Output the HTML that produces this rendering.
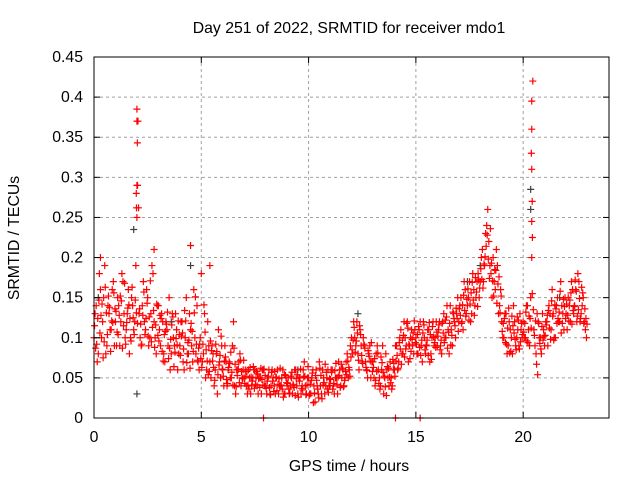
<!DOCTYPE html>
<html><head><meta charset="utf-8"><style>
body{margin:0;background:#fff}
svg text{font-family:"Liberation Sans",sans-serif;font-size:15.8px;fill:#000}
</style></head><body>
<svg id="chart" width="640" height="480" xmlns="http://www.w3.org/2000/svg">
<text x="349" y="33" text-anchor="middle">Day 251 of 2022, SRMTID for receiver mdo1</text>
<text transform="translate(19,238) rotate(-90)" text-anchor="middle">SRMTID / TECUs</text>
<text x="349" y="471" text-anchor="middle">GPS time / hours</text>
<g id="grid"></g><g id="marks"></g><g id="axes"></g>
</svg>
<script>
const xTicks=[0,5,10,15,20];
const yTicks=[0,0.05,0.1,0.15,0.2,0.25,0.3,0.35,0.4,0.45];
const yTickLabels=["0","0.05","0.1","0.15","0.2","0.25","0.3","0.35","0.4","0.45"];
const seriesStart=0, seriesStep=0.1;
const seriesA=[.10,.14,.08,.16,.12,.19,.09,.13,.11,.17,.12,.15,.09,.18,.13,.11,.16,.10,.14,.12,
.29,.13,.09,.17,.11,.15,.10,.19,.12,.08,.14,.09,.12,.07,.11,.15,.08,.10,.13,.06,
.09,.12,.06,.15,.08,.11,.07,.10,.14,.06,.18,.08,.05,.12,.07,.09,.04,.08,.11,.05,
.06,.09,.04,.07,.05,.12,.03,.06,.08,.05,.05,.04,.06,.03,.05,.06,.04,.05,.03,.06,
.04,.05,.03,.06,.04,.05,.03,.04,.06,.03,.04,.03,.05,.04,.06,.03,.05,.04,.07,.03,
.05,.03,.06,.02,.04,.07,.03,.05,.04,.06,.04,.06,.03,.05,.07,.04,.06,.05,.08,.06,
.10,.12,.09,.08,.11,.07,.09,.06,.08,.05,.07,.04,.09,.05,.06,.03,.08,.05,.07,.04,
.06,.09,.07,.11,.08,.10,.12,.09,.11,.08,.10,.08,.12,.07,.10,.09,.11,.08,.12,.10,
.09,.12,.08,.13,.10,.11,.14,.09,.12,.13,.12,.15,.11,.16,.14,.17,.13,.16,.15,.18,
.17,.21,.19,.24,.22,.18,.20,.16,.19,.14,.12,.10,.13,.09,.11,.08,.12,.10,.09,.11,
.12,.10,.14,.09,.20,.11,.08,.12,.10,.13,.09,.12,.14,.11,.13,.10,.15,.12,.14,.11,
.13,.15,.12,.16,.14,.12,.17,.13,.15,.11];
const seriesB=[.13,.07,.18,.10,.15,.08,.14,.11,.16,.09,.09,.14,.12,.17,.10,.13,.08,.15,.11,.19,
.37,.10,.14,.12,.16,.09,.13,.18,.10,.14,.11,.13,.08,.12,.09,.06,.13,.09,.11,.08,
.12,.07,.10,.08,.13,.09,.16,.08,.07,.10,.07,.13,.06,.09,.05,.08,.06,.03,.07,.09,
.04,.07,.06,.05,.09,.04,.06,.07,.04,.06,.06,.03,.05,.04,.06,.05,.03,.05,.06,.04,
.03,.06,.04,.05,.03,.06,.04,.05,.03,.05,.05,.04,.03,.06,.04,.05,.03,.06,.04,.05,
.03,.05,.04,.06,.03,.04,.06,.03,.05,.04,.06,.04,.05,.03,.06,.05,.04,.07,.05,.09,
.08,.10,.12,.06,.09,.10,.07,.05,.09,.07,.05,.08,.06,.04,.09,.05,.06,.04,.05,.06,
.09,.06,.10,.08,.12,.09,.07,.10,.09,.11,.08,.11,.09,.12,.08,.11,.07,.10,.09,.12,
.11,.09,.12,.10,.14,.08,.11,.13,.10,.15,.14,.12,.17,.13,.15,.12,.18,.14,.17,.15,
.20,.17,.23,.26,.19,.15,.17,.21,.13,.16,.10,.13,.08,.12,.10,.14,.09,.11,.13,.10,
.10,.14,.11,.15,.42,.09,.13,.10,.08,.11,.12,.09,.13,.16,.10,.14,.12,.17,.13,.15,
.11,.14,.17,.13,.16,.18,.12,.14,.12,.10];
const seriesC=[.115,.092,.147,.128,.075,.163,.104,.138,.121,.156,.133,.104,.152,.087,.168,.119,.141,.096,.125,.147,
.118,.136,.092,.157,.124,.102,.171,.113,.088,.142,.096,.124,.071,.108,.132,.087,.116,.064,.099,.121,
.078,.106,.134,.069,.097,.118,.083,.151,.072,.092,.063,.141,.085,.054,.096,.071,.047,.083,.066,.102,
.052,.076,.043,.068,.057,.087,.039,.061,.072,.049,.043,.058,.036,.051,.064,.042,.055,.038,.048,.061,
.037,.052,.029,.046,.058,.034,.049,.041,.026,.053,.043,.031,.057,.038,.049,.026,.061,.035,.052,.041,
.028,.047,.019,.053,.036,.062,.024,.044,.057,.032,.048,.036,.059,.042,.053,.067,.039,.058,.071,.052,
.085,.113,.096,.072,.104,.068,.087,.059,.077,.094,.063,.047,.081,.036,.069,.052,.028,.062,.044,.073,
.052,.078,.094,.067,.103,.086,.112,.074,.098,.121,.092,.114,.078,.106,.085,.097,.119,.073,.101,.088,
.102,.085,.118,.094,.126,.107,.091,.132,.115,.124,.136,.118,.153,.127,.161,.142,.169,.128,.157,.172,
.186,.162,.201,.228,.174,.193,.152,.184,.167,.131,.108,.124,.092,.137,.083,.115,.098,.126,.086,.118,
.107,.132,.094,.124,.155,.103,.067,.118,.086,.097,.103,.128,.112,.146,.097,.136,.124,.158,.118,.139,
.142,.121,.156,.134,.172,.127,.149,.163,.118,.124];
const seriesD=[.087,.124,.106,.142,.095,.131,.152,.083,.119,.136,.107,.128,.146,.115,.092,.137,.124,.163,.104,.131,
.262,.117,.128,.104,.143,.126,.095,.134,.116,.103,.128,.083,.104,.117,.074,.098,.126,.082,.091,.104,
.102,.086,.121,.094,.062,.108,.131,.092,.087,.074,.092,.107,.071,.058,.084,.063,.092,.054,.078,.061,
.071,.048,.063,.082,.041,.067,.053,.044,.058,.072,.052,.041,.063,.046,.037,.058,.049,.062,.041,.053,
.046,.038,.057,.033,.051,.042,.062,.036,.054,.044,.036,.052,.042,.028,.054,.046,.037,.051,.029,.064,
.042,.056,.031,.047,.025,.053,.041,.067,.036,.049,.057,.043,.068,.051,.038,.062,.047,.054,.063,.076,
.097,.082,.106,.115,.078,.092,.063,.084,.071,.058,.074,.058,.043,.076,.057,.039,.064,.051,.036,.068,
.071,.062,.086,.097,.076,.118,.092,.083,.106,.094,.104,.088,.097,.116,.091,.078,.104,.114,.094,.107,
.116,.097,.106,.122,.087,.118,.103,.124,.137,.108,.128,.141,.134,.148,.122,.156,.147,.175,.139,.162,
.173,.192,.214,.198,.236,.171,.185,.143,.176,.152,.118,.094,.112,.081,.127,.106,.085,.122,.095,.104,
.118,.096,.127,.112,.135,.121,.054,.093,.114,.102,.116,.134,.098,.127,.141,.118,.132,.106,.148,.124,
.128,.147,.117,.139,.158,.135,.124,.156,.136,.117];
const extraTimes=[2.0,2.0,2.02,1.97,2.0,2.03,1.98,20.4,20.4,20.38,20.4,20.42,20.4,20.43,7.9,14.05,15.2,4.5,5.4,0.3,2.8];
const extraValues=[.385,.37,.343,.28,.25,.29,.262,.395,.36,.33,.31,.27,.245,.225,0,0,0,.215,.19,.2,.21];
const darkTimes=[2.0,20.35,20.35,1.85,18.0,0.2,12.3,9.5,3.6,21.7,17.4,4.5];
const darkValues=[.03,.285,.26,.235,.19,.15,.13,.06,.12,.15,.17,.19];
const X0=94,X1=609,Y0=418,Y1=57;
const xs=t=>X0+(t/24)*(X1-X0);
const ys=v=>Y0-(v/0.45)*(Y0-Y1);
const NS="http://www.w3.org/2000/svg";
function mk(tag,parent){const e=document.createElementNS(NS,tag);parent.appendChild(e);return e;}
const grid=document.getElementById('grid'),marks=document.getElementById('marks'),axes=document.getElementById('axes');
xTicks.forEach(t=>{
 if(t>0){const l=mk('line',grid);l.setAttribute('x1',xs(t));l.setAttribute('x2',xs(t));l.setAttribute('y1',Y1);l.setAttribute('y2',Y0);l.setAttribute('stroke','#a0a0a0');l.setAttribute('stroke-dasharray','3,3');
 
 }
 [[Y0,Y0-6],[Y1,Y1+6]].forEach(p=>{const k=mk('line',axes);k.setAttribute('x1',xs(t));k.setAttribute('x2',xs(t));k.setAttribute('y1',p[0]);k.setAttribute('y2',p[1]);k.setAttribute('stroke','#000');
 
 });
 const tx=mk('text',axes);tx.setAttribute('x',xs(t));tx.setAttribute('y',Y0+24);tx.setAttribute('text-anchor','middle');tx.textContent=t;
 
 
});
yTicks.forEach((v,i)=>{
 if(v>0&&v<0.45){const l=mk('line',grid);l.setAttribute('x1',X0);l.setAttribute('x2',X1);l.setAttribute('y1',ys(v));l.setAttribute('y2',ys(v));l.setAttribute('stroke','#a0a0a0');l.setAttribute('stroke-dasharray','3,3');
 
 }
 [[X0,X0+6],[X1,X1-6]].forEach(p=>{const k=mk('line',axes);k.setAttribute('x1',p[0]);k.setAttribute('x2',p[1]);k.setAttribute('y1',ys(v));k.setAttribute('y2',ys(v));k.setAttribute('stroke','#000');
 
 });
 const tx=mk('text',axes);tx.setAttribute('x',X0-11);tx.setAttribute('y',ys(v)+5);tx.setAttribute('text-anchor','end');tx.textContent=yTickLabels[i];
 
 
});
const fr=mk('rect',axes);fr.setAttribute('x',X0);fr.setAttribute('y',Y1);fr.setAttribute('width',X1-X0);fr.setAttribute('height',Y0-Y1);fr.setAttribute('fill','none');fr.setAttribute('stroke','#000');


function plus(t,v,color){
 const x=xs(t),y=ys(v);
 const p=mk('path',marks);
 p.setAttribute('d',`M${x-3.5} ${y}H${x+3.5}M${x} ${y-3.5}V${y+3.5}`);
 p.setAttribute('stroke',color);p.setAttribute('stroke-width','1.2');p.setAttribute('fill','none');
 
 
}
darkTimes.forEach((t,i)=>plus(t,darkValues[i],'#404040'));
seriesA.forEach((v,i)=>plus(seriesStart+i*seriesStep,v,'#ff0000'));
seriesC.forEach((v,i)=>plus(seriesStart+i*seriesStep+0.025,v,'#ff0000'));
seriesB.forEach((v,i)=>plus(seriesStart+i*seriesStep+0.05,v,'#ff0000'));
seriesD.forEach((v,i)=>plus(seriesStart+i*seriesStep+0.075,v,'#ff0000'));
extraTimes.forEach((t,i)=>plus(t,extraValues[i],'#ff0000'));
</script>
</body></html>
